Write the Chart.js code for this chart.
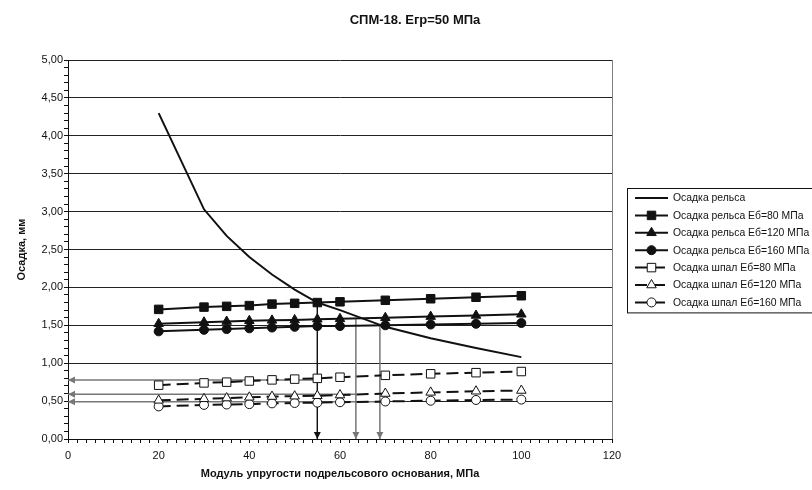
<!DOCTYPE html>
<html>
<head>
<meta charset="utf-8">
<script src="https://cdn.jsdelivr.net/npm/chart.js@4.4.1/dist/chart.umd.min.js"></script>
<style>
  html,body{margin:0;padding:0;background:#fff;}
  #wrap{width:812px;height:490px;}
</style>
</head>
<body>
<div id="wrap"><canvas id="c" width="812" height="490"></canvas></div>
<script>
/* Осадка рельса / шпал vs модуль подрельсового основания */
const X_VALUES   = [20, 30, 35, 40, 45, 50, 55, 60, 70, 80, 90, 100];
const RAIL       = [4.30, 3.03, 2.68, 2.40, 2.17, 1.97, 1.80, 1.70, 1.48, 1.33, 1.20, 1.08];
const RAIL_80    = [1.71, 1.74, 1.75, 1.76, 1.78, 1.79, 1.80, 1.81, 1.83, 1.85, 1.87, 1.89];
const RAIL_120   = [1.52, 1.54, 1.55, 1.56, 1.565, 1.57, 1.58, 1.585, 1.60, 1.615, 1.63, 1.645];
const RAIL_160   = [1.42, 1.44, 1.45, 1.46, 1.47, 1.48, 1.49, 1.49, 1.50, 1.51, 1.52, 1.53];
const SLEEPER_80  = [0.71, 0.74, 0.75, 0.765, 0.78, 0.79, 0.80, 0.815, 0.84, 0.86, 0.875, 0.89];
const SLEEPER_120 = [0.51, 0.53, 0.54, 0.55, 0.56, 0.565, 0.57, 0.58, 0.60, 0.615, 0.63, 0.64];
const SLEEPER_160 = [0.43, 0.45, 0.455, 0.46, 0.47, 0.475, 0.48, 0.485, 0.495, 0.505, 0.515, 0.52];

const LABELS = [
  "Осадка рельса",
  "Осадка рельса Еб=80 МПа",
  "Осадка рельса Еб=120 МПа",
  "Осадка рельса Еб=160 МПа",
  "Осадка шпал Еб=80 МПа",
  "Осадка шпал Еб=120 МПа",
  "Осадка шпал Еб=160 МПа"
];

// reading lines: drop from the rail curve crossings, then left to the y axis
const DROP_X   = [55, 63.5, 68.8];
const DROP_TOP = [1.80, 1.58, 1.50];
const LEVEL_Y  = [0.78, 0.59, 0.49];

const TITLE   = "СПМ-18. Егр=50 МПа";
const X_TITLE = "Модуль упругости подрельсового основания, МПа";
const Y_TITLE = "Осадка, мм";

const FONT = "'Liberation Sans', Arial, sans-serif";
const DASH = [12, 6];

function pts(ys){ return X_VALUES.map((x, i) => ({x: x, y: ys[i]})); }

function series(label, ys, style, fill, radius, dash){
  return {
    label: label, data: pts(ys), borderColor: "#111", borderWidth: 2, borderDash: dash || [],
    pointStyle: style || "circle", pointRadius: style ? radius : 0,
    pointBackgroundColor: fill, pointBorderColor: "#111", pointBorderWidth: 1,
    tension: 0, _legend: true
  };
}

const datasets = [
  series(LABELS[0], RAIL, null, "#111", 0),
  series(LABELS[1], RAIL_80, "rect", "#111", 6),
  series(LABELS[2], RAIL_120, "triangle", "#111", 5.5),
  series(LABELS[3], RAIL_160, "circle", "#111", 4.5),
  series(LABELS[4], SLEEPER_80, "rect", "#fff", 6, DASH),
  series(LABELS[5], SLEEPER_120, "triangle", "#fff", 5.5, DASH),
  series(LABELS[6], SLEEPER_160, "circle", "#fff", 4.5, DASH)
];

DROP_X.forEach((x, i) => {
  const col = i === 0 ? "#111" : "#777";
  datasets.push({ data: [{x: x, y: DROP_TOP[i]}, {x: x, y: 0}], borderColor: col, borderWidth: i === 0 ? 1 : 1.5,
    pointRadius: 0, _arrow: true });
  datasets.push({ data: [{x: x, y: LEVEL_Y[i]}, {x: 0, y: LEVEL_Y[i]}], borderColor: "#777", borderWidth: 1.5,
    pointRadius: 0, _arrow: true });
});

function drawMarker(ctx, style, x, y, r, fill){
  ctx.save();
  ctx.fillStyle = fill; ctx.strokeStyle = "#111"; ctx.lineWidth = 1; ctx.setLineDash([]);
  ctx.beginPath();
  if(style === "rect"){ const s = r * Math.SQRT1_2; ctx.rect(x - s, y - s, 2 * s, 2 * s); }
  else if(style === "triangle"){
    ctx.moveTo(x, y - r); ctx.lineTo(x - r * 0.866, y + r * 0.5); ctx.lineTo(x + r * 0.866, y + r * 0.5); ctx.closePath();
  }
  else ctx.arc(x, y, r, 0, Math.PI * 2);
  ctx.fill(); ctx.stroke();
  ctx.restore();
}

const decor = {
  id: "decor",
  afterDatasetsDraw(chart){
    const ctx = chart.ctx;
    chart.data.datasets.forEach((ds, i) => {
      if(!ds._arrow) return;
      const m = chart.getDatasetMeta(i).data;
      const p0 = m[0], p1 = m[1];
      const dx = p1.x - p0.x, dy = p1.y - p0.y, L = Math.hypot(dx, dy) || 1;
      const ux = dx / L, uy = dy / L, len = 7, hw = 3.5;
      ctx.save();
      ctx.fillStyle = ds.borderColor;
      ctx.beginPath();
      ctx.moveTo(p1.x, p1.y);
      ctx.lineTo(p1.x - ux * len - uy * hw, p1.y - uy * len + ux * hw);
      ctx.lineTo(p1.x - ux * len + uy * hw, p1.y - uy * len - ux * hw);
      ctx.closePath(); ctx.fill();
      ctx.restore();
    });
  },
  afterDraw(chart){
    const ctx = chart.ctx, a = chart.chartArea;
    ctx.save();
    // right border of plot area
    ctx.strokeStyle = "#808080"; ctx.lineWidth = 1;
    ctx.beginPath(); ctx.moveTo(Math.round(a.right) + 0.5, a.top); ctx.lineTo(Math.round(a.right) + 0.5, a.bottom); ctx.stroke();

    // titles
    ctx.fillStyle = "#111"; ctx.textAlign = "center"; ctx.textBaseline = "middle";
    ctx.font = "bold 13px " + FONT;
    ctx.fillText(TITLE, 415, 20);
    ctx.font = "bold 11px " + FONT;
    ctx.fillText(X_TITLE, (a.left + a.right) / 2, 474);
    ctx.save();
    ctx.translate(22, (a.top + a.bottom) / 2); ctx.rotate(-Math.PI / 2);
    ctx.fillText(Y_TITLE, 0, 0);
    ctx.restore();

    // legend
    const bx = 627.5, by = 188.5, step = 17.4, y0 = 198;
    ctx.strokeStyle = "#111"; ctx.lineWidth = 1;
    ctx.strokeRect(bx, by, 200, step * 6 + 20);
    ctx.font = "10.4px " + FONT; ctx.textAlign = "left";
    chart.data.datasets.forEach((ds, i) => {
      if(!ds._legend) return;
      const y = y0 + i * step;
      ctx.save();
      ctx.strokeStyle = ds.borderColor; ctx.lineWidth = ds.borderWidth; ctx.setLineDash(ds.borderDash);
      ctx.beginPath(); ctx.moveTo(635, y); ctx.lineTo(668, y); ctx.stroke();
      ctx.restore();
      if(ds.pointRadius > 0) drawMarker(ctx, ds.pointStyle, 651.5, y, ds.pointRadius, ds.pointBackgroundColor);
      ctx.fillStyle = "#111";
      ctx.fillText(ds.label, 673, y + 0.5);
    });
    ctx.restore();
  }
};

new Chart(document.getElementById("c"), {
  type: "line",
  data: { datasets: datasets },
  options: {
    responsive: false, animation: false, events: [],
    layout: { padding: { top: 60, right: 200, bottom: 0, left: 0 } },
    plugins: { legend: { display: false }, tooltip: { enabled: false } },
    scales: {
      x: {
        type: "linear", min: 0, max: 120,
        ticks: { stepSize: 2, autoSkip: false, maxRotation: 0, padding: 6, color: "#111",
          font: { family: FONT, size: 11 },
          callback: v => (Math.round(v) % 20 === 0 ? String(Math.round(v)) : "") },
        grid: { drawOnChartArea: false, drawTicks: true, tickLength: 4, tickColor: "#111" },
        border: { color: "#111", width: 1 },
        afterFit(s){ s.height = 51; s.paddingLeft = 0; s.paddingRight = 0; }
      },
      y: {
        type: "linear", min: 0, max: 5,
        ticks: { stepSize: 0.1, autoSkip: false, padding: 1, color: "#111",
          font: { family: FONT, size: 11 },
          callback: v => { const k = Math.round(v * 10); return k % 5 === 0 ? (k / 10).toFixed(2).replace(".", ",") : ""; } },
        grid: {
          color: c => (c.tick && Math.round(c.tick.value * 10) % 5 === 0) ? "#222" : "rgba(0,0,0,0)",
          tickColor: "#111", tickLength: 4, lineWidth: 1
        },
        border: { color: "#111", width: 1 },
        afterFit(s){ s.width = 68; s.paddingTop = 0; s.paddingBottom = 0; }
      }
    }
  },
  plugins: [decor]
});
</script>
</body>
</html>
